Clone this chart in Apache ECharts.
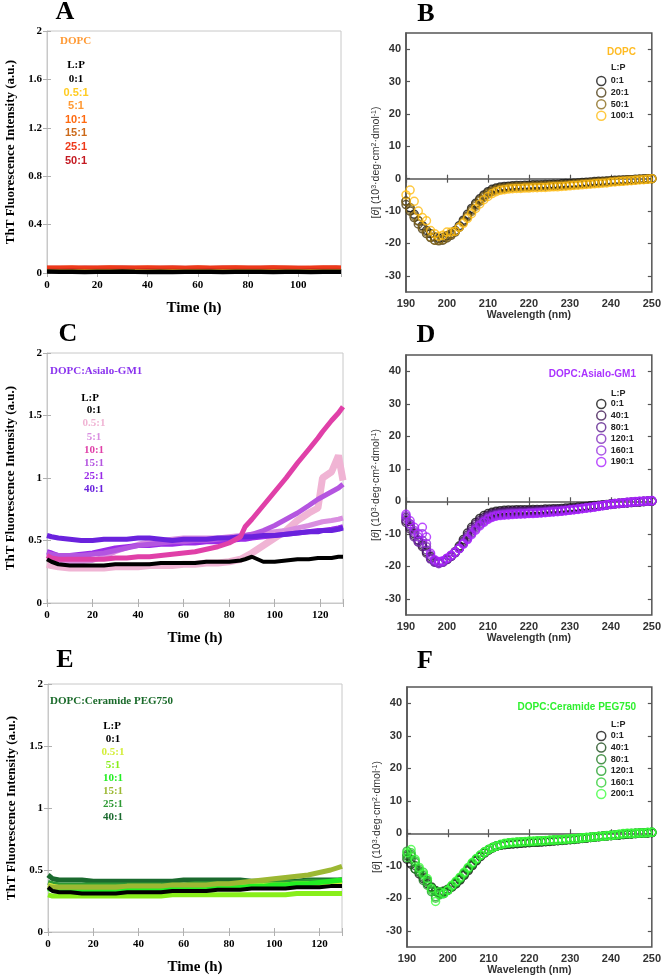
<!DOCTYPE html>
<html>
<head>
<meta charset="utf-8">
<script src="https://cdn.jsdelivr.net/npm/echarts@6/dist/echarts.min.js"></script>
<style>
  html, body { margin: 0; padding: 0; background: #fff; }
  #chart { width: 664px; height: 978px; }
</style>
</head>
<body>
<div id="chart"></div>
<script>
// ---- ThT kinetics (panels A, C, E) ----
const timeA = [0, 5, 10, 15, 20, 25, 30, 35, 40, 45, 50, 55, 60, 65, 70, 75, 80, 85, 90, 95, 100, 105, 110, 115, 117];
const lpA = ["0:1", "0.5:1", "5:1", "10:1", "15:1", "25:1", "50:1"];
const thtA0 = [0.012, 0.010, 0.011, 0.009, 0.011, 0.010, 0.012, 0.010, 0.009, 0.011, 0.008, 0.010, 0.011, 0.010, 0.009, 0.011, 0.010, 0.010, 0.009, 0.011, 0.010, 0.009, 0.011, 0.010, 0.010];
const thtA05 = [0.035, 0.033, 0.034, 0.032, 0.035, 0.034, 0.033, 0.035, 0.034, 0.033, 0.034, 0.032, 0.034, 0.035, 0.033, 0.034, 0.034, 0.033, 0.035, 0.034, 0.033, 0.034, 0.035, 0.034, 0.034];
const thtA5 = [0.042, 0.040, 0.043, 0.041, 0.042, 0.044, 0.041, 0.042, 0.040, 0.043, 0.042, 0.041, 0.043, 0.042, 0.040, 0.042, 0.043, 0.041, 0.042, 0.043, 0.041, 0.042, 0.040, 0.042, 0.042];
const thtA10 = [0.046, 0.045, 0.047, 0.044, 0.046, 0.048, 0.045, 0.046, 0.047, 0.045, 0.044, 0.046, 0.047, 0.045, 0.046, 0.048, 0.045, 0.046, 0.044, 0.047, 0.046, 0.045, 0.046, 0.047, 0.046];
const thtA15 = [0.043, 0.044, 0.042, 0.045, 0.044, 0.043, 0.045, 0.044, 0.042, 0.044, 0.045, 0.043, 0.044, 0.042, 0.045, 0.044, 0.043, 0.044, 0.045, 0.043, 0.044, 0.042, 0.044, 0.045, 0.044];
const thtA25 = [0.050, 0.049, 0.051, 0.048, 0.050, 0.052, 0.049, 0.050, 0.051, 0.049, 0.050, 0.048, 0.051, 0.050, 0.049, 0.052, 0.050, 0.049, 0.051, 0.050, 0.048, 0.050, 0.051, 0.049, 0.050];
const thtA50 = [0.047, 0.048, 0.046, 0.049, 0.048, 0.047, 0.049, 0.048, 0.046, 0.048, 0.049, 0.047, 0.048, 0.046, 0.049, 0.048, 0.047, 0.048, 0.049, 0.047, 0.048, 0.046, 0.048, 0.049, 0.048];

const timeC = [0, 2, 5, 10, 15, 20, 25, 30, 35, 40, 45, 50, 55, 60, 65, 70, 75, 80, 85, 87, 90, 95, 100, 105, 110, 115, 119, 121, 125, 128, 130];
const lpC = ["0:1", "0.5:1", "5:1", "10:1", "15:1", "25:1", "40:1"];
const thtC0 = [0.35, 0.33, 0.31, 0.30, 0.30, 0.30, 0.30, 0.31, 0.31, 0.31, 0.31, 0.32, 0.32, 0.32, 0.32, 0.33, 0.33, 0.33, 0.34, 0.35, 0.37, 0.33, 0.33, 0.34, 0.35, 0.35, 0.36, 0.36, 0.36, 0.37, 0.37];
const thtC05 = [0.31, 0.30, 0.29, 0.28, 0.28, 0.28, 0.28, 0.29, 0.29, 0.29, 0.30, 0.30, 0.30, 0.31, 0.31, 0.32, 0.32, 0.33, 0.35, 0.37, 0.40, 0.46, 0.52, 0.58, 0.66, 0.72, 0.76, 1.00, 1.05, 1.18, 0.98];
const thtC5 = [0.36, 0.35, 0.34, 0.33, 0.33, 0.34, 0.37, 0.41, 0.44, 0.47, 0.49, 0.50, 0.51, 0.52, 0.52, 0.52, 0.52, 0.53, 0.54, 0.54, 0.55, 0.56, 0.57, 0.58, 0.60, 0.62, 0.64, 0.65, 0.66, 0.67, 0.68];
const thtC10 = [0.38, 0.36, 0.35, 0.35, 0.35, 0.35, 0.35, 0.36, 0.36, 0.37, 0.37, 0.38, 0.39, 0.40, 0.41, 0.43, 0.45, 0.48, 0.53, 0.61, 0.67, 0.78, 0.89, 1.00, 1.12, 1.23, 1.32, 1.37, 1.46, 1.52, 1.57];
const thtC15 = [0.40, 0.39, 0.38, 0.38, 0.38, 0.39, 0.40, 0.42, 0.44, 0.46, 0.47, 0.48, 0.49, 0.49, 0.50, 0.50, 0.51, 0.52, 0.53, 0.54, 0.55, 0.58, 0.62, 0.67, 0.72, 0.78, 0.83, 0.85, 0.89, 0.92, 0.95];
const thtC25 = [0.41, 0.40, 0.38, 0.38, 0.39, 0.40, 0.42, 0.44, 0.45, 0.46, 0.46, 0.47, 0.47, 0.48, 0.48, 0.49, 0.49, 0.50, 0.51, 0.51, 0.52, 0.53, 0.54, 0.55, 0.56, 0.57, 0.58, 0.58, 0.59, 0.60, 0.61];
const thtC40 = [0.54, 0.53, 0.52, 0.51, 0.50, 0.50, 0.51, 0.51, 0.51, 0.52, 0.52, 0.51, 0.50, 0.51, 0.51, 0.51, 0.52, 0.52, 0.53, 0.53, 0.53, 0.54, 0.54, 0.55, 0.56, 0.57, 0.57, 0.58, 0.58, 0.59, 0.60];

const timeE = [0, 2, 5, 10, 15, 20, 25, 30, 35, 40, 45, 50, 55, 60, 65, 70, 75, 80, 85, 90, 95, 100, 105, 110, 115, 120, 125, 130];
const lpE = ["0:1", "0.5:1", "5:1", "10:1", "15:1", "25:1", "40:1"];
const thtE0 = [0.36, 0.33, 0.32, 0.32, 0.31, 0.31, 0.31, 0.31, 0.32, 0.32, 0.32, 0.32, 0.33, 0.33, 0.33, 0.33, 0.34, 0.34, 0.34, 0.35, 0.35, 0.35, 0.35, 0.36, 0.36, 0.36, 0.37, 0.37];
const thtE05 = [0.38, 0.37, 0.36, 0.36, 0.36, 0.36, 0.36, 0.36, 0.36, 0.36, 0.36, 0.36, 0.36, 0.37, 0.37, 0.37, 0.37, 0.37, 0.37, 0.38, 0.38, 0.38, 0.38, 0.39, 0.39, 0.39, 0.40, 0.40];
const thtE5 = [0.30, 0.29, 0.29, 0.29, 0.29, 0.29, 0.29, 0.29, 0.29, 0.29, 0.29, 0.29, 0.30, 0.30, 0.30, 0.30, 0.30, 0.30, 0.30, 0.30, 0.30, 0.30, 0.30, 0.31, 0.31, 0.31, 0.31, 0.31];
const thtE10 = [0.35, 0.34, 0.34, 0.34, 0.34, 0.34, 0.34, 0.34, 0.34, 0.34, 0.35, 0.35, 0.35, 0.35, 0.35, 0.35, 0.36, 0.36, 0.36, 0.37, 0.37, 0.38, 0.38, 0.39, 0.39, 0.40, 0.41, 0.42];
const thtE15 = [0.37, 0.36, 0.36, 0.36, 0.36, 0.36, 0.36, 0.36, 0.37, 0.37, 0.37, 0.37, 0.38, 0.38, 0.38, 0.38, 0.39, 0.39, 0.40, 0.41, 0.42, 0.43, 0.44, 0.45, 0.46, 0.48, 0.50, 0.53];
const thtE25 = [0.40, 0.39, 0.38, 0.38, 0.38, 0.38, 0.38, 0.38, 0.38, 0.38, 0.38, 0.38, 0.38, 0.38, 0.39, 0.39, 0.39, 0.39, 0.39, 0.39, 0.40, 0.40, 0.40, 0.40, 0.41, 0.41, 0.41, 0.42];
const thtE40 = [0.46, 0.43, 0.42, 0.42, 0.42, 0.41, 0.41, 0.41, 0.41, 0.41, 0.41, 0.41, 0.41, 0.42, 0.42, 0.42, 0.42, 0.42, 0.42, 0.41, 0.41, 0.41, 0.41, 0.41, 0.42, 0.42, 0.42, 0.42];

// ---- CD spectra (panels B, D, F) ----
const wavelength = [190, 191, 192, 193, 194, 195, 196, 197, 198, 199, 200, 201, 202, 203, 204, 205, 206, 207, 208, 209,
  210, 211, 212, 213, 214, 215, 216, 217, 218, 219, 220, 221, 222, 223, 224, 225, 226, 227, 228, 229,
  230, 231, 232, 233, 234, 235, 236, 237, 238, 239, 240, 241, 242, 243, 244, 245, 246, 247, 248, 249, 250];
const cdTicks = [-30, -20, -10, 0, 10, 20, 30, 40];

const lpB = ["0:1", "20:1", "50:1", "100:1"];
const cdB0 = [-7, -9, -11, -13, -14.5, -16, -17, -18, -18.5, -18.2,
  -17.6, -17, -16, -14.5, -12.8, -11, -9.2, -7.6, -6.2, -5,
  -4, -3.3, -2.9, -2.6, -2.4, -2.3, -2.2, -2.1, -2.1, -2,
  -2, -1.9, -1.9, -1.9, -1.8, -1.8, -1.7, -1.7, -1.6, -1.5,
  -1.5, -1.4, -1.3, -1.2, -1.1, -1, -0.9, -0.8, -0.8, -0.7,
  -0.6, -0.5, -0.5, -0.4, -0.3, -0.3, -0.2, -0.2, -0.1, 0, 0];
const cdB20 = [-8, -10, -12, -14, -15.5, -17, -18.2, -19, -19.2, -19,
  -18.3, -17.5, -16.5, -15, -13.2, -11.5, -9.7, -8, -6.6, -5.4,
  -4.4, -3.7, -3.2, -2.9, -2.7, -2.6, -2.5, -2.4, -2.4, -2.3,
  -2.3, -2.2, -2.2, -2.1, -2.1, -2, -2, -1.9, -1.9, -1.8,
  -1.7, -1.6, -1.5, -1.4, -1.3, -1.2, -1.1, -1, -0.9, -0.8,
  -0.7, -0.6, -0.5, -0.5, -0.4, -0.3, -0.3, -0.2, -0.1, 0, 0];
const cdB50 = [-7, -9.5, -11.5, -13, -15, -16.5, -18, -19, -19, -18.8,
  -18, -17.2, -16.3, -15, -13.4, -11.8, -10.1, -8.5, -7, -5.8,
  -4.8, -4, -3.5, -3.2, -3, -2.8, -2.7, -2.6, -2.6, -2.5,
  -2.5, -2.4, -2.4, -2.3, -2.3, -2.2, -2.2, -2.1, -2, -2,
  -1.9, -1.8, -1.7, -1.6, -1.5, -1.4, -1.3, -1.2, -1.1, -1,
  -0.9, -0.8, -0.7, -0.6, -0.5, -0.4, -0.3, -0.2, -0.2, -0.1, 0];
const cdB100 = [-5, -3.5, -7, -10, -12, -13, -16, -17, -17.8, -17.5,
  -16.5, -16.5, -16.2, -15, -13.8, -12.3, -10.8, -9.2, -7.8, -6.5,
  -5.5, -4.6, -4, -3.6, -3.4, -3.2, -3.1, -3, -3, -2.9,
  -2.9, -2.8, -2.8, -2.7, -2.7, -2.6, -2.5, -2.5, -2.4, -2.3,
  -2.2, -2.1, -2, -1.9, -1.8, -1.7, -1.6, -1.5, -1.4, -1.3,
  -1.1, -1, -0.9, -0.8, -0.7, -0.6, -0.5, -0.4, -0.3, -0.2, 0];

const lpD = ["0:1", "40:1", "80:1", "120:1", "160:1", "190:1"];
const cdD0 = [-6, -8, -10, -12, -13.5, -15.5, -17, -18.3, -18.8, -18.5,
  -17.8, -16.8, -15.5, -13.8, -11.8, -9.8, -8, -6.5, -5.3, -4.4,
  -3.8, -3.4, -3.1, -2.9, -2.8, -2.7, -2.7, -2.6, -2.6, -2.6,
  -2.6, -2.5, -2.5, -2.5, -2.4, -2.4, -2.3, -2.3, -2.2, -2.1,
  -2, -1.9, -1.8, -1.7, -1.6, -1.4, -1.3, -1.2, -1.1, -1,
  -0.8, -0.7, -0.6, -0.5, -0.4, -0.3, -0.3, -0.2, -0.1, 0, 0];
const cdD40 = [-6.5, -8.5, -10.5, -12.5, -14, -16, -17.5, -18.6, -19, -18.7,
  -18, -17, -15.8, -14.2, -12.3, -10.4, -8.6, -7.1, -5.9, -5,
  -4.3, -3.8, -3.5, -3.3, -3.2, -3.1, -3.1, -3, -3, -3,
  -2.9, -2.9, -2.8, -2.8, -2.7, -2.7, -2.6, -2.5, -2.5, -2.4,
  -2.3, -2.2, -2.1, -1.9, -1.8, -1.7, -1.5, -1.4, -1.2, -1.1,
  -0.9, -0.8, -0.7, -0.6, -0.5, -0.4, -0.3, -0.2, -0.1, 0, 0];
const cdD80 = [-5, -7.5, -11, -12, -13, -15, -17.8, -18.8, -19, -18.6,
  -17.9, -17, -15.9, -14.5, -12.7, -10.9, -9.2, -7.7, -6.4, -5.5,
  -4.7, -4.2, -3.9, -3.7, -3.6, -3.5, -3.4, -3.4, -3.3, -3.3,
  -3.2, -3.2, -3.1, -3.1, -3, -2.9, -2.8, -2.8, -2.7, -2.6,
  -2.5, -2.4, -2.2, -2.1, -1.9, -1.8, -1.6, -1.5, -1.3, -1.1,
  -1, -0.8, -0.7, -0.6, -0.5, -0.4, -0.3, -0.2, -0.1, 0, 0.1];
const cdD120 = [-5.5, -7, -9.5, -12.5, -12, -14, -17.5, -18.6, -19.2, -18.8,
  -17.8, -16.9, -15.8, -14.6, -13, -11.3, -9.7, -8.2, -7, -6,
  -5.1, -4.6, -4.2, -4, -3.9, -3.8, -3.7, -3.7, -3.6, -3.6,
  -3.5, -3.5, -3.4, -3.3, -3.2, -3.1, -3, -3, -2.9, -2.8,
  -2.6, -2.5, -2.3, -2.2, -2, -1.9, -1.7, -1.5, -1.3, -1.2,
  -1, -0.8, -0.7, -0.5, -0.4, -0.3, -0.2, -0.1, 0, 0, 0.1];
const cdD160 = [-4.5, -7, -9, -11, -10, -13, -16.5, -18.3, -19, -18.6,
  -17.6, -16.7, -15.7, -14.6, -13.1, -11.6, -10, -8.6, -7.3, -6.3,
  -5.4, -4.8, -4.4, -4.2, -4.1, -4, -3.9, -3.9, -3.8, -3.8,
  -3.7, -3.6, -3.6, -3.5, -3.4, -3.3, -3.2, -3.1, -3, -2.9,
  -2.7, -2.6, -2.4, -2.2, -2.1, -1.9, -1.7, -1.5, -1.3, -1.1,
  -0.9, -0.8, -0.6, -0.5, -0.4, -0.3, -0.2, -0.1, 0, 0, 0.1];
const cdD190 = [-4, -6, -8, -10, -8, -11, -16, -18, -18.5, -18.3,
  -17.5, -16.6, -15.6, -14.5, -13.2, -11.8, -10.3, -8.9, -7.6, -6.5,
  -5.6, -5, -4.6, -4.4, -4.3, -4.2, -4.1, -4, -4, -3.9,
  -3.8, -3.8, -3.7, -3.6, -3.5, -3.4, -3.3, -3.2, -3.1, -2.9,
  -2.8, -2.6, -2.5, -2.3, -2.1, -2, -1.8, -1.6, -1.4, -1.1,
  -0.9, -0.7, -0.6, -0.5, -0.3, -0.2, -0.1, 0, 0, 0.1, 0.2];

const lpF = ["0:1", "40:1", "80:1", "120:1", "160:1", "200:1"];
const cdF0 = [-8, -9.5, -11, -12.5, -14, -15.5, -16.8, -17.8, -18.2, -18,
  -17.5, -16.6, -15.6, -14.4, -13, -11.5, -10, -8.5, -7.2, -6.1,
  -5.2, -4.5, -4, -3.7, -3.5, -3.4, -3.3, -3.2, -3.1, -3,
  -2.9, -2.8, -2.8, -2.7, -2.6, -2.5, -2.4, -2.3, -2.2, -2.1,
  -2, -1.9, -1.7, -1.6, -1.5, -1.3, -1.2, -1.1, -0.9, -0.8,
  -0.7, -0.6, -0.5, -0.4, -0.3, -0.2, -0.1, 0, 0, 0.1, 0.2];
const cdF40 = [-7, -8, -10, -12, -13.5, -15, -16.5, -17.6, -18, -17.8,
  -17.2, -16.4, -15.4, -14.2, -12.8, -11.2, -9.7, -8.3, -7, -6,
  -5.1, -4.4, -3.9, -3.6, -3.4, -3.3, -3.2, -3.1, -3, -2.9,
  -2.8, -2.7, -2.7, -2.6, -2.5, -2.4, -2.3, -2.2, -2.1, -2,
  -1.9, -1.8, -1.7, -1.5, -1.4, -1.3, -1.2, -1, -0.9, -0.8,
  -0.7, -0.6, -0.5, -0.4, -0.3, -0.2, -0.1, 0, 0, 0.1, 0.2];
const cdF80 = [-6.5, -7, -11, -11.5, -14.5, -14.5, -17, -18, -18.4, -18.2,
  -17.4, -16.4, -15.3, -14, -12.6, -11, -9.5, -8.1, -6.9, -5.9,
  -5, -4.4, -3.9, -3.5, -3.3, -3.1, -3, -2.9, -2.8, -2.7,
  -2.7, -2.6, -2.5, -2.5, -2.4, -2.3, -2.2, -2.2, -2.1, -2,
  -1.9, -1.8, -1.6, -1.5, -1.4, -1.3, -1.1, -1, -0.9, -0.8,
  -0.7, -0.6, -0.5, -0.3, -0.2, -0.2, -0.1, 0, 0.1, 0.1, 0.2];
const cdF120 = [-5.5, -6.5, -9, -12, -13, -16, -18, -19.5, -18.8, -18.6,
  -17.6, -16.3, -15.1, -13.8, -12.3, -10.8, -9.3, -8, -6.8, -5.8,
  -5, -4.4, -3.9, -3.5, -3.2, -3, -2.9, -2.8, -2.7, -2.6,
  -2.6, -2.5, -2.4, -2.4, -2.3, -2.2, -2.1, -2.1, -2, -1.9,
  -1.8, -1.7, -1.6, -1.5, -1.3, -1.2, -1.1, -1, -0.9, -0.8,
  -0.6, -0.5, -0.4, -0.3, -0.2, -0.1, 0, 0, 0.1, 0.2, 0.3];
const cdF160 = [-7.5, -6, -8.5, -11, -12, -15, -17.5, -20, -19, -18.5,
  -17.5, -16.2, -15, -13.7, -12.2, -10.7, -9.2, -7.9, -6.8, -5.8,
  -5, -4.4, -3.9, -3.5, -3.2, -3, -2.9, -2.8, -2.7, -2.6,
  -2.5, -2.5, -2.4, -2.3, -2.3, -2.2, -2.1, -2, -2, -1.9,
  -1.8, -1.7, -1.6, -1.4, -1.3, -1.2, -1.1, -1, -0.9, -0.7,
  -0.6, -0.5, -0.4, -0.2, -0.1, 0, 0, 0.1, 0.1, 0.2, 0.3];
const cdF200 = [-6, -5, -8, -10.5, -12.5, -14, -17, -21, -18, -18.5,
  -17.5, -16, -14.8, -13.5, -12, -10.5, -9, -7.8, -6.7, -5.8,
  -5, -4.4, -3.9, -3.4, -3.1, -2.9, -2.8, -2.7, -2.6, -2.5,
  -2.4, -2.4, -2.3, -2.3, -2.2, -2.1, -2.1, -2, -1.9, -1.8,
  -1.7, -1.6, -1.5, -1.4, -1.3, -1.2, -1.1, -1, -0.9, -0.8,
  -0.7, -0.5, -0.3, -0.1, 0, -0.1, 0, 0.1, 0.1, 0.2, 0.3];

const serif = '"Liberation Serif", "Times New Roman", serif';
const sans = '"Liberation Sans", Arial, sans-serif';

const grids = [
  { left: 47, top: 31, width: 294, height: 242 },   // A
  { left: 406, top: 33, width: 249, height: 259 },  // B
  { left: 47, top: 353, width: 296, height: 250 },  // C
  { left: 406, top: 355, width: 249, height: 260 }, // D
  { left: 48, top: 684, width: 294, height: 248 },  // E
  { left: 407, top: 687, width: 248, height: 260 }  // F
];

const option = {
  animation: false,
  grid: [],
  xAxis: [],
  yAxis: [],
  series: [],
  legend: [],
  graphic: { elements: [] }
};

function pairs(xs, ys) {
  return xs.map((x, i) => [x, ys[i]]);
}

function text(x, y, str, font, fill, align) {
  option.graphic.elements.push({
    type: "text", x: x, y: y, silent: true,
    style: { text: str, font: font, fill: fill, textAlign: align || "left", textVerticalAlign: "middle", align: align || "left", verticalAlign: "middle" }
  });
}

// ThT panel: light grey frame, Times labels
function thtPanel(gi, xMax, yInterval, lines) {
  const g = grids[gi];
  option.grid.push({ ...g, show: true, borderColor: "#c8c8c8", borderWidth: 1 });
  const tick = { show: true, inside: true, length: 4, lineStyle: { color: "#b0b0b0" } };
  option.xAxis.push({
    gridIndex: gi, type: "value", min: 0, max: xMax, interval: 20,
    axisLine: { lineStyle: { color: "#c8c8c8" } }, axisTick: tick, splitLine: { show: false },
    axisLabel: { color: "#000", fontFamily: serif, fontWeight: "bold", fontSize: 11, margin: 7,
      formatter: v => (v % 20 === 0 ? String(v) : "") },
    name: "Time (h)", nameLocation: "middle", nameGap: 28,
    nameTextStyle: { fontFamily: serif, fontWeight: "bold", fontSize: 15, color: "#000" }
  });
  option.xAxis.push({
    gridIndex: gi, type: "value", position: "top", min: 0, max: xMax, interval: 20,
    axisLine: { show: false }, axisTick: tick, axisLabel: { show: false }, splitLine: { show: false }
  });
  option.yAxis.push({
    gridIndex: gi, type: "value", min: 0, max: 2, interval: yInterval,
    axisLine: { lineStyle: { color: "#c8c8c8" } }, axisTick: tick, splitLine: { show: false },
    axisLabel: { color: "#000", fontFamily: serif, fontWeight: "bold", fontSize: 11, margin: 5 },
    name: "ThT Fluorescence Intensity (a.u.)", nameLocation: "middle", nameGap: 30,
    nameTextStyle: { fontFamily: serif, fontWeight: "bold", fontSize: 13, color: "#000" }
  });
  option.yAxis.push({
    gridIndex: gi, type: "value", position: "right", min: 0, max: 2, interval: yInterval,
    axisLine: { show: false }, axisTick: tick, axisLabel: { show: false }, splitLine: { show: false }
  });
  lines.forEach(l => {
    option.series.push({
      type: "line", name: l.name, xAxisIndex: gi * 2, yAxisIndex: gi * 2,
      data: pairs(l.t, l.v), showSymbol: false, silent: true,
      lineStyle: { color: l.color, width: l.width || 5, opacity: l.opacity || 1 }
    });
  });
}

// CD panel: dark frame, Arial labels, hollow circles
function cdPanel(gi, key, names, colors, values, legendTop) {
  const g = grids[gi];
  option.grid.push({ ...g, show: true, borderColor: "#555", borderWidth: 1.5 });
  const tick = { show: true, inside: true, length: 4, lineStyle: { color: "#555", width: 1.2 } };
  option.xAxis.push({
    gridIndex: gi, type: "value", min: 190, max: 250, interval: 10,
    axisLine: { lineStyle: { color: "#555", width: 1.5 } }, axisTick: tick, splitLine: { show: false },
    axisLabel: { color: "#333", fontFamily: sans, fontWeight: "bold", fontSize: 11, margin: 6 },
    name: "Wavelength (nm)", nameLocation: "middle", nameGap: 18,
    nameTextStyle: { fontFamily: sans, fontWeight: "bold", fontSize: 10.5, color: "#333" }
  });
  option.xAxis.push({
    gridIndex: gi, type: "value", position: "top", min: 190, max: 250, interval: 10,
    axisLine: { show: false }, axisTick: tick, axisLabel: { show: false }, splitLine: { show: false }
  });
  option.yAxis.push({
    gridIndex: gi, type: "value", min: -35, max: 45,
    axisLine: { lineStyle: { color: "#555", width: 1.5 } },
    axisTick: { ...tick, customValues: cdTicks }, splitLine: { show: false },
    axisLabel: { color: "#333", fontFamily: sans, fontWeight: "bold", fontSize: 11, margin: 5, customValues: cdTicks },
    name: "[{i|θ}] (10{s|3}·deg·cm{s|2}·dmol{s|-1})", nameLocation: "middle", nameGap: 16,
    nameTextStyle: {
      fontFamily: sans, fontSize: 10.5, color: "#333",
      rich: {
        i: { fontFamily: sans, fontSize: 10.5, fontStyle: "italic", color: "#333" },
        s: { fontFamily: sans, fontSize: 7, color: "#333", verticalAlign: "top" }
      }
    }
  });
  option.yAxis.push({
    gridIndex: gi, type: "value", position: "right", min: -35, max: 45,
    axisLine: { show: false }, axisTick: { ...tick, customValues: cdTicks },
    axisLabel: { show: false }, splitLine: { show: false }
  });
  names.forEach((n, i) => {
    option.series.push({
      type: "scatter", name: key + "|" + n, xAxisIndex: gi * 2, yAxisIndex: gi * 2,
      data: pairs(wavelength, values[i]), symbol: "circle", symbolSize: 8, silent: true,
      itemStyle: { color: "rgba(0,0,0,0)", borderColor: colors[i], borderWidth: 1.5 }
    });
  });
  option.legend.push({
    left: 596, top: legendTop, orient: "vertical", padding: 0,
    itemWidth: 9, itemHeight: 9, itemGap: 0.6, icon: "circle", selectedMode: false,
    formatter: name => name.split("|")[1],
    textStyle: { fontFamily: sans, fontWeight: "bold", fontSize: 9, lineHeight: 11, color: "#222" },
    data: names.map((n, i) => ({
      name: key + "|" + n,
      itemStyle: { color: "rgba(0,0,0,0)", borderColor: colors[i], borderWidth: 1.5 }
    }))
  });
}

// ---- A ----
const colA = ["#000000", "#ffcc22", "#ff9933", "#ff6a10", "#cc6a1a", "#ee3a1a", "#c41a22"];
thtPanel(0, 117, 0.4, [
  { name: "0.5:1", t: timeA, v: thtA05, color: colA[1], width: 3 },
  { name: "5:1", t: timeA, v: thtA5, color: colA[2], width: 3 },
  { name: "15:1", t: timeA, v: thtA15, color: colA[4], width: 3 },
  { name: "10:1", t: timeA, v: thtA10, color: colA[3], width: 3 },
  { name: "50:1", t: timeA, v: thtA50, color: colA[6], width: 3 },
  { name: "25:1", t: timeA, v: thtA25, color: colA[5], width: 3 },
  { name: "0:1", t: timeA, v: thtA0, color: colA[0], width: 4.5 }
]);

// ---- B ----
cdPanel(1, "B", lpB, ["#111111", "#4a3a12", "#8a6a1a", "#ffbb11"], [cdB0, cdB20, cdB50, cdB100], 75.5);

// ---- C ----
const colC = ["#000000", "#f0b4d4", "#d98ee0", "#e040a8", "#b455e0", "#9a2ae8", "#6a22dd"];
thtPanel(2, 130, 0.5, [
  { name: "0.5:1", t: timeC, v: thtC05, color: colC[1], width: 7 },
  { name: "5:1", t: timeC, v: thtC5, color: colC[2] },
  { name: "25:1", t: timeC, v: thtC25, color: colC[5] },
  { name: "15:1", t: timeC, v: thtC15, color: colC[4] },
  { name: "40:1", t: timeC, v: thtC40, color: colC[6] },
  { name: "10:1", t: timeC, v: thtC10, color: colC[3] },
  { name: "0:1", t: timeC, v: thtC0, color: colC[0], width: 4 }
]);

// ---- D ----
cdPanel(3, "D", lpD, ["#111111", "#3c1450", "#5a1e8c", "#7e2abb", "#9630e0", "#aa22ff"],
  [cdD0, cdD40, cdD80, cdD120, cdD160, cdD190], 398.5);

// ---- E ----
const colE = ["#000000", "#d4ee3a", "#88ee1a", "#22ee22", "#9cb833", "#2e9a35", "#1a6a2e"];
thtPanel(4, 130, 0.5, [
  { name: "40:1", t: timeE, v: thtE40, color: colE[6] },
  { name: "25:1", t: timeE, v: thtE25, color: colE[5] },
  { name: "0.5:1", t: timeE, v: thtE05, color: colE[1] },
  { name: "10:1", t: timeE, v: thtE10, color: colE[3] },
  { name: "5:1", t: timeE, v: thtE5, color: colE[2] },
  { name: "15:1", t: timeE, v: thtE15, color: colE[4] },
  { name: "0:1", t: timeE, v: thtE0, color: colE[0], width: 4 }
]);

// ---- F ----
cdPanel(5, "F", lpF, ["#111111", "#1a4a1a", "#1f7a22", "#22a02a", "#2ecc33", "#3dff3d"],
  [cdF0, cdF40, cdF80, cdF120, cdF160, cdF200], 730.5);

// ---- panel letters ----
const letterFont = "bold 26px " + serif;
text(65, 12, "A", letterFont, "#000", "center");
text(426, 14, "B", letterFont, "#000", "center");
text(68, 334, "C", letterFont, "#000", "center");
text(426, 335, "D", letterFont, "#000", "center");
text(65, 660, "E", letterFont, "#000", "center");
text(425, 661, "F", letterFont, "#000", "center");

// ---- ThT legends ----
const fSerif = "bold 11px " + serif;
const fSans = "bold 11px " + sans;
text(60, 41, "DOPC", fSerif, "#ff9933");
text(76, 65, "L:P", fSerif, "#000", "center");
lpA.forEach((n, i) => text(76, 79 + i * 13.6, n, i === 0 ? fSerif : fSans, colA[i], "center"));

text(50, 371, "DOPC:Asialo-GM1", fSerif, "#8a33ee");
text(90, 398, "L:P", fSerif, "#000", "center");
lpC.forEach((n, i) => text(94, 410.5 + i * 13.1, n, fSerif, colC[i], "center"));

text(50, 701, "DOPC:Ceramide PEG750", fSerif, "#1a6a2a");
text(112, 726, "L:P", fSerif, "#000", "center");
lpE.forEach((n, i) => text(113, 739 + i * 13.1, n, fSerif, colE[i], "center"));

// ---- CD legend titles ----
const fCd = "bold 10px " + sans;
text(636, 52, "DOPC", fCd, "#ffbb22", "right");
text(611, 68, "L:P", "bold 9px " + sans, "#222");
text(636, 374, "DOPC:Asialo-GM1", fCd, "#aa33ff", "right");
text(611, 394, "L:P", "bold 9px " + sans, "#222");
text(636, 707, "DOPC:Ceramide PEG750", fCd, "#2ef02e", "right");
text(611, 725, "L:P", "bold 9px " + sans, "#222");

const chart = echarts.init(document.getElementById("chart"), null, { renderer: "canvas" });
chart.setOption(option);
</script>
</body>
</html>
